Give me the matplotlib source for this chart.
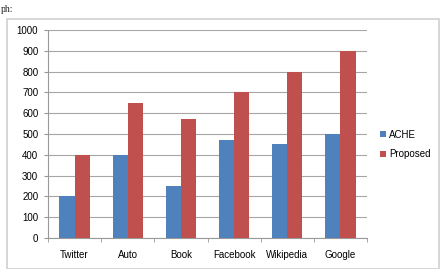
import matplotlib.pyplot as plt
import numpy as np
from matplotlib.patches import Rectangle

categories = ['Twitter', 'Auto', 'Book', 'Facebook', 'Wikipedia', 'Google']
ache = [200, 400, 250, 470, 450, 500]
proposed = [400, 650, 570, 700, 800, 900]
yticks = list(range(0, 1001, 100))

blue = '#4F81BD'
red = '#C0504D'
font = 'Liberation Sans'
fs = 7

fig = plt.figure(figsize=(4.45, 2.69), dpi=100)
W, H = 445, 269

# outer chart border
fig.patches.append(Rectangle((7 / W, 0.5 / H), 432 / W, (269 - 19.5) / H,
                             transform=fig.transFigure, fill=False,
                             edgecolor='#d0d0d0', linewidth=1.2))
fig.text(0.5 / W, 1 - 9 / H, 'ph:', family='Liberation Serif', fontsize=7,
         va='center', ha='left', color='#222222')

ax = fig.add_axes([48 / W, 1 - 238 / H, (367 - 48) / W, (238 - 30) / H])
x = np.arange(len(categories))
w = 0.285
ax.bar(x - w / 2, ache, w, color=blue, label='ACHE', zorder=3)
ax.bar(x + w / 2, proposed, w, color=red, label='Proposed', zorder=3)

ax.set_xlim(-0.5, len(categories) - 0.5)
ax.set_ylim(0, 1000)
ax.set_yticks(yticks)
ax.set_yticklabels([str(v) for v in yticks], fontsize=fs, family=font)
ax.set_xticks(x)
ax.set_xticklabels(categories, fontsize=fs, family=font)
ax.tick_params(axis='x', length=0, pad=9)
ax.set_xticks(np.arange(-0.5, len(categories)), minor=True)
ax.tick_params(axis='x', which='minor', length=3, color='#999999')
ax.tick_params(axis='y', length=3, color='#999999', pad=4)
ax.grid(axis='y', color='#a6a6a6', linewidth=0.8, zorder=0)
for s in ['top', 'right']:
    ax.spines[s].set_visible(False)
ax.spines['left'].set_color('#999999')
ax.spines['bottom'].set_color('#999999')

ax.legend(loc='center left', bbox_to_anchor=((380 - 48) / (367 - 48), 0.45),
          frameon=False, prop={'family': font, 'size': fs},
          handlelength=0.6, handleheight=0.6,
          handletextpad=0.3, labelspacing=0.95, borderpad=0, borderaxespad=0)

fig.savefig('out.png', dpi=100)
